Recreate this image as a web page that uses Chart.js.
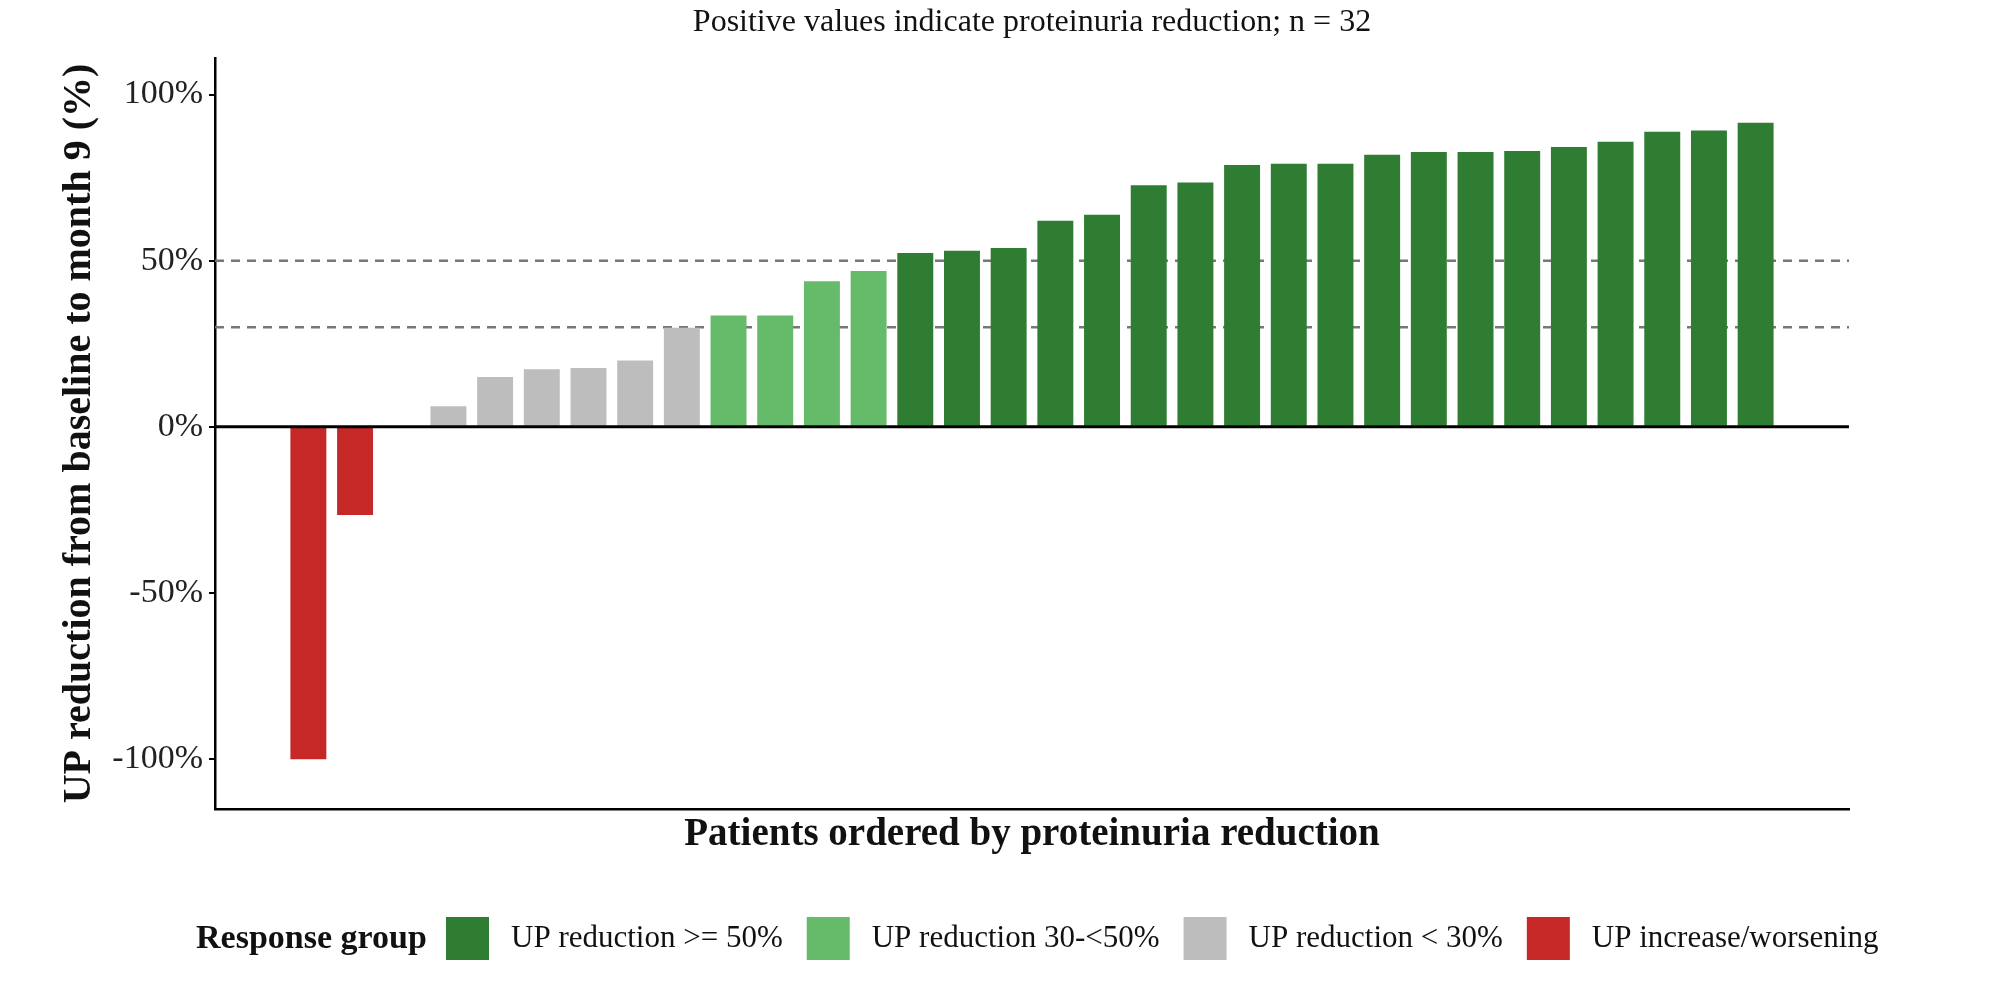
<!DOCTYPE html>
<html><head><meta charset="utf-8">
<script src="https://cdn.jsdelivr.net/npm/chart.js@4"></script>
<style>html,body{margin:0;padding:0;background:#fff}#w{width:2004px;height:988px}</style>
</head><body><div id="w"><canvas id="c"></canvas></div>
<script>
const patients = Array.from({length:32},(_, i)=>i+1);
const reductions = [-100,-26.5,0,6.2,15,17.3,17.7,20,29.8,33.5,33.5,43.8,46.9,52.3,53,53.8,62,63.8,72.7,73.5,78.8,79.2,79.2,81.9,82.7,82.7,83,84.2,85.8,88.8,89.2,91.5];
const groupNames = ["UP reduction >= 50%","UP reduction 30-<50%","UP reduction < 30%","UP increase/worsening"];
const groupColors = ["#2E7D32","#66BB6A","#BDBDBD","#C62828"];
const refLines = [50,30];
const yTicks = [-100,-50,0,50,100];
const titleText = "Positive values indicate proteinuria reduction; n = 32";
const xTitle = "Patients ordered by proteinuria reduction";
const yTitle = "UP reduction from baseline to month 9 (%)";
const legendTitle = "Response group";

function groupOf(v){ if(v<0) return 3; if(v>=50) return 0; if(v>=30) return 1; return 2; }
const F = "'Liberation Serif','Times New Roman',serif";

const deco = {
  id:'deco',
  beforeDatasetsDraw(ch){
    const {ctx, chartArea:a, scales:{y}} = ch;
    ctx.save();
    ctx.strokeStyle='#777'; ctx.lineWidth=2.5; ctx.setLineDash([9,7]);
    refLines.forEach(v=>{const py=y.getPixelForValue(v); ctx.beginPath(); ctx.moveTo(a.left,py); ctx.lineTo(a.right,py); ctx.stroke();});
    ctx.restore();
  },
  afterDatasetsDraw(ch){
    const {ctx, chartArea:a, scales:{y}} = ch;
    ctx.save();
    const p0=y.getPixelForValue(0);
    ctx.strokeStyle='#000'; ctx.lineWidth=3;
    ctx.beginPath(); ctx.moveTo(a.left,p0); ctx.lineTo(a.right,p0); ctx.stroke();
    ctx.fillStyle='#111'; ctx.textAlign='center'; ctx.textBaseline='middle';
    ctx.font="32px "+F; ctx.fillText(titleText,(a.left+a.right)/2,23);
    ctx.font="bold 39px "+F; ctx.fillText(xTitle,(a.left+a.right)/2,835);
    ctx.save(); ctx.translate(80,(a.top+a.bottom)/2); ctx.rotate(-Math.PI/2);
    ctx.font="bold 40px "+F; ctx.fillText(yTitle,0,0); ctx.restore();
    // legend
    const ly=939; ctx.textAlign='left';
    ctx.font="bold 34px "+F; ctx.fillText(legendTitle,196,ly);
    let x=446; ctx.font="31px "+F;
    groupNames.forEach((n,i)=>{
      ctx.fillStyle=groupColors[i]; ctx.fillRect(x,ly-22,43,43);
      ctx.fillStyle='#111'; ctx.fillText(n,x+65,ly);
      x = x+65+ctx.measureText(n).width+24;
    });
    ctx.restore();
  }
};

new Chart(document.getElementById('c'),{
  type:'bar',
  data:{datasets:[{
    data:patients.map((p,i)=>({x:p,y:reductions[i]})),
    backgroundColor:reductions.map(v=>groupColors[groupOf(v)]),
    categoryPercentage:1, barPercentage:0.77, borderWidth:0
  }]},
  options:{
    responsive:true, maintainAspectRatio:false, animation:false,
    layout:{padding:{left:0,top:58,right:155,bottom:179}},
    plugins:{legend:{display:false},tooltip:{enabled:false}},
    scales:{
      x:{type:'linear',min:-1,max:34,offset:false,
        ticks:{display:false},grid:{display:false},
        border:{display:true,color:'#000',width:2.5},
        afterFit:s=>{s.height=0;}},
      y:{min:-115,max:111,
        afterBuildTicks:s=>{s.ticks=yTicks.map(v=>({value:v}));},
        ticks:{callback:v=>v+'%',color:'#222',font:{family:F,size:34},padding:6},
        grid:{drawOnChartArea:false,color:'#000',tickLength:6,lineWidth:2},
        border:{display:true,color:'#000',width:2.5},
        afterFit:s=>{s.width=215;}}
    }
  },
  plugins:[deco]
});
</script></body></html>
